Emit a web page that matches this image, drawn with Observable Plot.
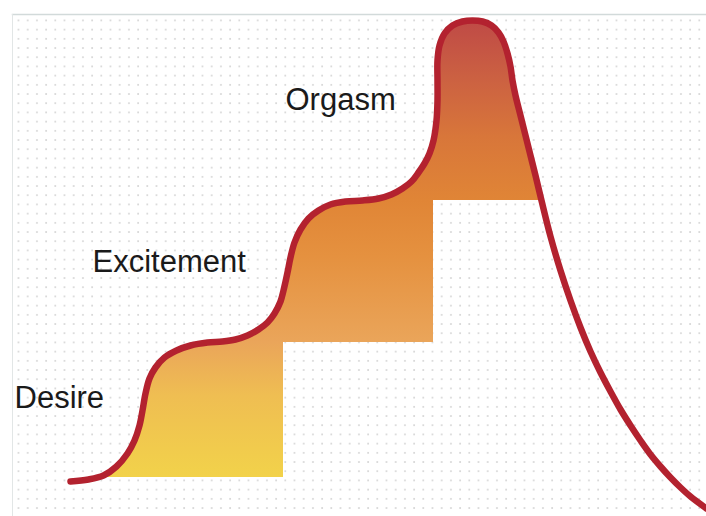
<!DOCTYPE html>
<html>
<head>
<meta charset="utf-8">
<script src="https://cdn.jsdelivr.net/npm/d3@7"></script>
<script src="https://cdn.jsdelivr.net/npm/@observablehq/plot@0.6"></script>
<style>
  html, body { margin: 0; padding: 0; background: #fff; }
  #chart svg { display: block; }
</style>
</head>
<body>
<div id="chart"></div>
<script>
// Time (horizontal position) and arousal level of the response curve
const curveTime = [70, 88, 103, 116, 127, 134, 139, 142, 145, 149, 155, 164, 176, 190, 207, 222, 235, 247, 258, 267, 274, 280, 283, 287, 290, 294, 300, 308, 318, 330, 345, 362, 378, 391, 402, 411, 418, 424, 429, 433, 436, 437, 437, 437, 439, 444, 452, 462, 472, 482, 491, 498, 503, 507, 510, 512, 515, 520, 525, 530, 535, 541, 550, 560, 570, 580, 590, 600, 610, 620, 630, 640, 650, 660, 670, 680, 690, 706];
const curveLevel = [35, 37, 41, 50, 63, 76, 91, 106, 123, 138, 149, 159, 166, 171, 174, 175, 177, 181, 187, 194, 203, 215, 226, 244, 259, 274, 287, 298, 306, 312, 315, 316, 318, 322, 328, 335, 344, 353, 363, 376, 396, 416, 436, 456, 471, 483, 491, 495, 496, 495, 491, 484, 475, 463, 450, 436, 421, 401, 381, 361, 341, 316, 280, 246, 216, 189, 165, 144, 125, 107, 91, 76, 62, 50, 39, 29, 20, 8];

// Phases: label, time span of the shaded step, and step floor level
const phaseNames = ["Desire", "Excitement", "Orgasm"];
const phaseStart = [103, 283, 433];
const phaseEnd = [283, 433, 541];
const phaseFloor = [39, 174, 316];

// Label anchor positions
const labelTime = [14, 92, 285];
const labelLevel = [118, 254, 416];

const curve = curveTime.map((t, i) => ({t, level: curveLevel[i]}));

const fillRows = [];
phaseNames.forEach((name, p) => {
  curve.forEach(d => {
    if (d.t >= phaseStart[p] && d.t <= phaseEnd[p]) {
      fillRows.push({t: d.t, level: d.level, floor: phaseFloor[p], phase: name});
    }
  });
});

const labels = phaseNames.map((name, i) => ({name, t: labelTime[i], level: labelLevel[i]}));

const chart = Plot.plot({
  width: 706,
  height: 516,
  marginLeft: 12,
  marginTop: 14,
  marginRight: 0,
  marginBottom: 0,
  x: {domain: [12, 706], axis: null},
  y: {domain: [0, 502], axis: null},
  marks: [
    Plot.frame({fill: "url(#dots)", stroke: null}),
    Plot.frame({anchor: "top", stroke: "#d2dada", strokeWidth: 1.5}),
    Plot.frame({anchor: "left", stroke: "#e2e6e6", strokeWidth: 1}),
    Plot.areaY(fillRows, {x: "t", y1: "floor", y2: "level", fill: "url(#heat)", curve: "linear"}),
    Plot.line(curve, {x: "t", y: "level", stroke: "#b3222f", strokeWidth: 6.5, strokeLinecap: "round", strokeLinejoin: "round", curve: "catmull-rom"}),
    Plot.text(labels, {x: "t", y: "level", text: "name", textAnchor: "start", fontSize: 31, fill: "#1a1a1a", fontFamily: "Liberation Sans, Arial, Helvetica, sans-serif"})
  ]
});

// Defs: dotted background pattern and vertical heat gradient
const yS = chart.scale("y");
const svg = d3.select(chart);
const defs = svg.insert("defs", ":first-child");
const pat = defs.append("pattern")
  .attr("id", "dots")
  .attr("patternUnits", "userSpaceOnUse")
  .attr("x", 17).attr("y", 19)
  .attr("width", 9.2).attr("height", 9.2);
pat.append("rect").attr("width", 9.2).attr("height", 9.2).attr("fill", "#ffffff");
pat.append("circle").attr("cx", 1).attr("cy", 1).attr("r", 0.9).attr("fill", "#cfcfcf");

const grad = defs.append("linearGradient")
  .attr("id", "heat")
  .attr("gradientUnits", "userSpaceOnUse")
  .attr("x1", 0).attr("x2", 0)
  .attr("y1", yS.apply(39)).attr("y2", yS.apply(496));
const span = 496 - 39;
[[39, "#f2d24a"], [120, "#efbe52"], [174, "#eaa55a"], [260, "#e5913f"], [316, "#e08536"], [380, "#d8763a"], [440, "#cb6042"], [496, "#bf4a46"]]
  .forEach(([lv, c]) => grad.append("stop").attr("offset", (lv - 39) / span).attr("stop-color", c));

document.getElementById("chart").appendChild(chart);
</script>
</body>
</html>
